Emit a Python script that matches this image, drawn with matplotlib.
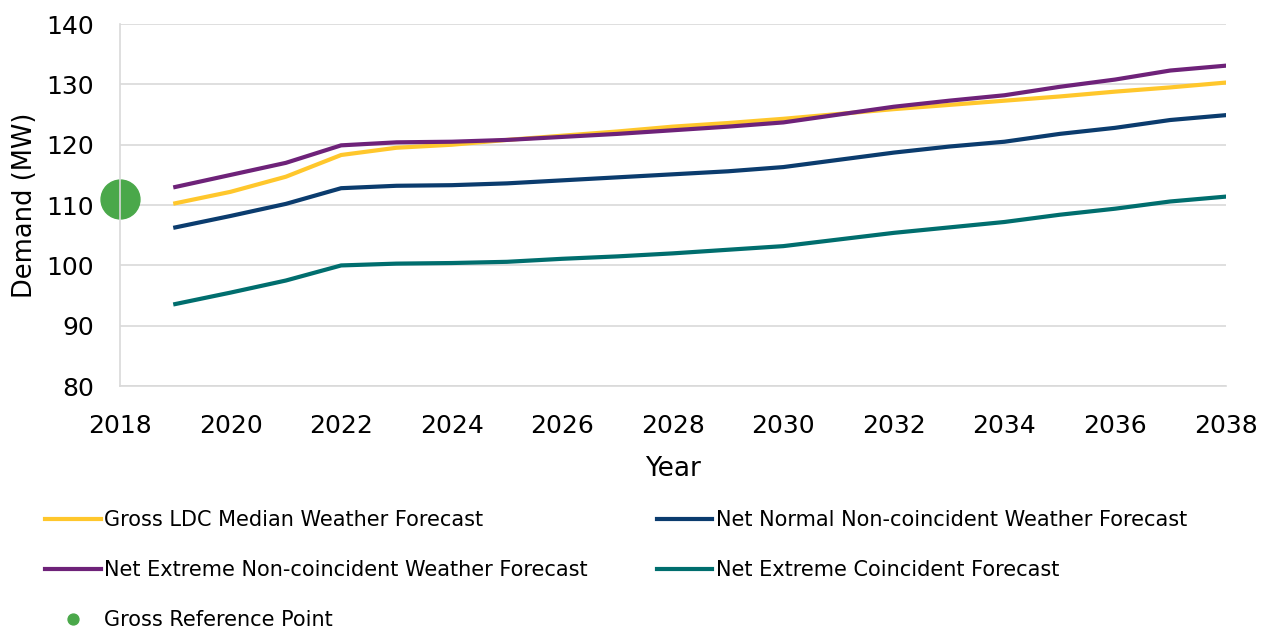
import matplotlib
matplotlib.use("Agg")
from matplotlib import pyplot as plt
import numpy as np

# data
years = list(range(2019, 2039))
gross_ldc = [110.3, 112.2, 114.7, 118.3, 119.5, 120.0, 120.8, 121.5, 122.2, 123.0,
             123.6, 124.3, 125.1, 125.9, 126.6, 127.3, 128.0, 128.8, 129.5, 130.3]
net_normal = [106.3, 108.2, 110.2, 112.8, 113.2, 113.3, 113.6, 114.1, 114.6, 115.1,
              115.6, 116.3, 117.5, 118.7, 119.7, 120.5, 121.8, 122.8, 124.1, 124.9]
net_extreme_nc = [113.0, 115.0, 117.0, 119.9, 120.4, 120.5, 120.8, 121.3, 121.8, 122.4,
                  123.0, 123.7, 125.0, 126.3, 127.3, 128.2, 129.6, 130.8, 132.3, 133.1]
net_extreme_c = [93.6, 95.5, 97.5, 100.0, 100.3, 100.4, 100.6, 101.1, 101.5, 102.0,
                 102.6, 103.2, 104.3, 105.4, 106.3, 107.2, 108.4, 109.4, 110.6, 111.4]
ref_year = [2018]
ref_value = [111.0]

fig = plt.figure(figsize=(12.7, 6.33), dpi=100)
ax = fig.add_axes([0.0945, 0.39, 0.8705, 0.572])

l1, = ax.plot(years, gross_ldc, color="#FFC72C", lw=3, label="Gross LDC Median Weather Forecast")
l2, = ax.plot(years, net_normal, color="#0B3C6E", lw=3, label="Net Normal Non-coincident Weather Forecast")
l3, = ax.plot(years, net_extreme_nc, color="#6E2279", lw=3, label="Net Extreme Non-coincident Weather Forecast")
l4, = ax.plot(years, net_extreme_c, color="#006E6E", lw=3, label="Net Extreme Coincident Forecast")
pt, = ax.plot(ref_year, ref_value, "o", color="#4AA84A", ms=28, clip_on=False,
              label="Gross Reference Point")

ax.set_xlim(2018, 2038)
ax.set_ylim(80, 140)
ax.set_xticks(range(2018, 2039, 2))
ax.set_yticks(range(80, 141, 10))
ax.tick_params(labelsize=18, length=0)
ax.tick_params(axis="y", pad=19)
ax.tick_params(axis="x", pad=20)
ax.grid(axis="y", color="#d9d9d9", lw=1.2)
ax.set_axisbelow(True)
for s in ["top", "right"]:
    ax.spines[s].set_visible(False)
for s in ["left", "bottom"]:
    ax.spines[s].set_color("#d9d9d9")
    ax.spines[s].set_linewidth(1.2)

ax.set_xlabel("Year", fontsize=19, labelpad=13)
ax.set_ylabel("Demand (MW)", fontsize=18.5, labelpad=5.5)

# legend: matplotlib fills columns first
handles = [l1, l3, pt, l2, l4]
leg = fig.legend(handles=handles, labels=[h.get_label() for h in handles],
                 ncol=2, loc="upper left", bbox_to_anchor=(0.021, 0.224),
                 frameon=False, fontsize=15, handlelength=2.65, handletextpad=0.15,
                 labelspacing=1.45, columnspacing=3.35, markerscale=0.28)

fig.savefig("out.png", dpi=100)
